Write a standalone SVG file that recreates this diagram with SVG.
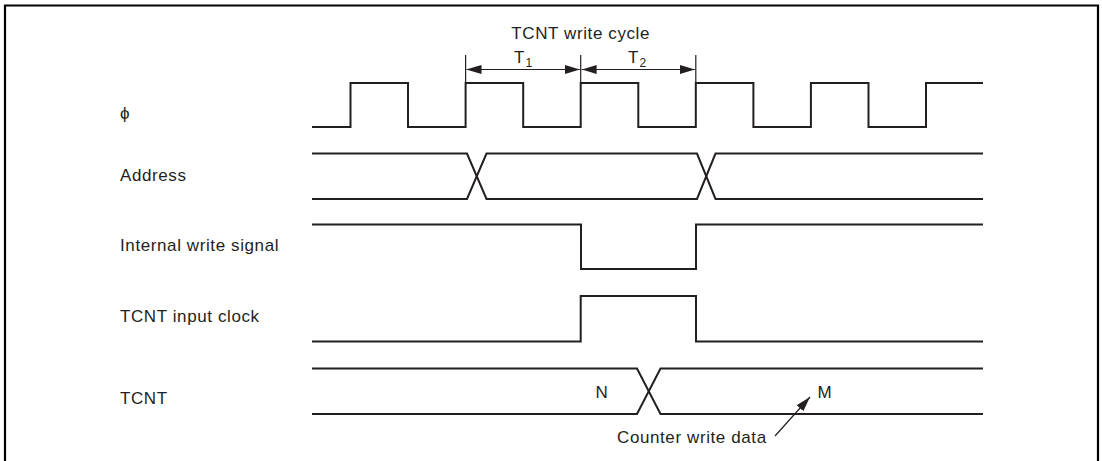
<svg xmlns="http://www.w3.org/2000/svg" width="1102" height="461" viewBox="0 0 1102 461">
  <style>
    .sig { fill: none; stroke: #231f20; stroke-width: 2; stroke-linejoin: miter; }
    .thin { fill: none; stroke: #231f20; stroke-width: 1.2; }
    .lbl { font-family: "Liberation Sans", Arial, sans-serif; font-size: 17px; letter-spacing: 0.6px; fill: #231f20; }
    .sub { font-family: "Liberation Sans", Arial, sans-serif; font-size: 12px; fill: #231f20; }
  </style>
  <defs>
    <marker id="ah" viewBox="0 0 15 9" refX="15" refY="4.5" markerWidth="15" markerHeight="9" markerUnits="userSpaceOnUse" orient="auto-start-reverse">
      <path d="M0,0 L15,4.5 L0,9 Z" fill="#231f20"/>
    </marker>
  </defs>
  <rect width="1102" height="461" fill="#ffffff"/>
  <path d="M5,461 V5.5 H1098 V461" fill="none" stroke="#000" stroke-width="2.2"/>

  <g id="labels">
    <text class="lbl" x="120" y="119">ϕ</text>
    <text class="lbl" x="120" y="181">Address</text>
    <text class="lbl" x="120" y="251">Internal write signal</text>
    <text class="lbl" x="120" y="322">TCNT input clock</text>
    <text class="lbl" x="120" y="404">TCNT</text>
  </g>

  <g id="cycle-annotation">
    <text class="lbl" x="580.7" y="39" text-anchor="middle">TCNT write cycle</text>
    <text class="lbl" x="514" y="63">T</text><text class="sub" x="525.5" y="67">1</text>
    <text class="lbl" x="628" y="63">T</text><text class="sub" x="639.5" y="67">2</text>
  </g>

  <g id="phi">
    <path class="sig" d="M312,127 H350.5 V83 H408 V127 H465.6 V83 H523.2 V127 H580.7 V83 H638.3 V127 H695.8 V83 H753.4 V127 H810.9 V83 H868.5 V127 H926 V83 H983"/>
  </g>

  <g id="address">
    <path class="sig" d="M312,153.5 H467 L486.5,199 H697 L715.5,153.5 H983"/>
    <path class="sig" d="M312,199 H467 L486.5,153.5 H697 L715.5,199 H983"/>
  </g>

  <g id="internal-write">
    <path class="sig" d="M312,224.5 H581 V269 H696 V224.5 H983"/>
  </g>

  <g id="input-clock">
    <path class="sig" d="M312,341.5 H580.7 V296 H696 V341.5 H983"/>
  </g>

  <g id="tcnt">
    <path class="sig" d="M312,368.5 H637 L660.5,414 H983"/>
    <path class="sig" d="M312,414 H637 L660.5,368.5 H983"/>
    <text class="lbl" x="602" y="398" text-anchor="middle">N</text>
    <text class="lbl" x="825" y="398" text-anchor="middle">M</text>
    <text class="lbl" x="617" y="443">Counter write data</text>
  </g>

  <g id="connectors">
    <line class="thin" x1="465.6" y1="55" x2="465.6" y2="83"/>
    <line class="thin" x1="580.7" y1="55" x2="580.7" y2="83"/>
    <line class="thin" x1="695.8" y1="55" x2="695.8" y2="83"/>
    <line class="thin" x1="466.5" y1="69.5" x2="579.8" y2="69.5" marker-start="url(#ah)" marker-end="url(#ah)"/>
    <line class="thin" x1="581.6" y1="69.5" x2="694.9" y2="69.5" marker-start="url(#ah)" marker-end="url(#ah)"/>
    <line class="thin" x1="775" y1="436" x2="810" y2="397" marker-end="url(#ah)"/>
  </g>
</svg>
